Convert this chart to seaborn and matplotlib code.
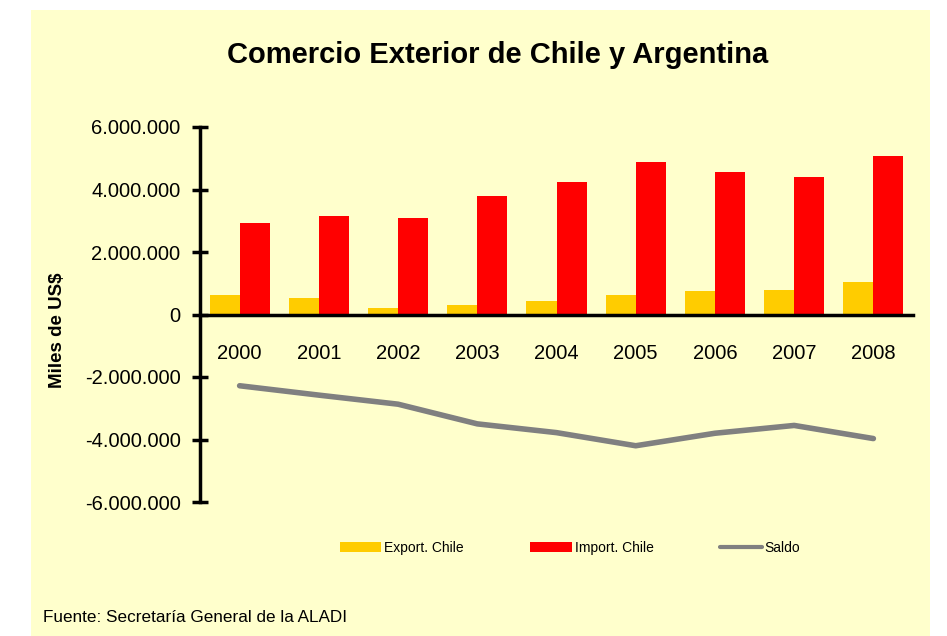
import numpy as np
import pandas as pd
import matplotlib
matplotlib.use("Agg")
import matplotlib.pyplot as plt
import seaborn as sns
from matplotlib.patches import Patch, Rectangle
from matplotlib.lines import Line2D
from matplotlib.ticker import FuncFormatter, FixedLocator

years = ["2000", "2001", "2002", "2003", "2004", "2005", "2006", "2007", "2008"]
export_chile = [640000, 530000, 210000, 320000, 430000, 640000, 750000, 800000, 1030000]
import_chile = [2930000, 3140000, 3090000, 3790000, 4230000, 4890000, 4560000, 4400000, 5060000]
saldo = [-2280000, -2580000, -2870000, -3500000, -3780000, -4200000, -3800000, -3550000, -3970000]

series_names = ["Export. Chile", "Import. Chile"]
colors = {"Export. Chile": "#FFCC00", "Import. Chile": "#FF0000"}
saldo_color = "#808080"
bg = "#FFFFCC"

df = pd.DataFrame({
    "year": years * 2,
    "serie": ["Export. Chile"] * len(years) + ["Import. Chile"] * len(years),
    "value": export_chile + import_chile,
})

sns.set_style("white")
plt.rcParams["font.family"] = ["Liberation Sans", "DejaVu Sans"]
plt.rcParams["text.color"] = "black"
plt.rcParams["xtick.color"] = "black"
plt.rcParams["ytick.color"] = "black"

fig = plt.figure(figsize=(9.47, 6.36), dpi=100, facecolor="white")
W, H = 947, 636
fig.patches.append(Rectangle((31 / W, 0), (930 - 31) / W, 1 - 10 / H,
                             transform=fig.transFigure, facecolor=bg,
                             edgecolor="none", zorder=-10))

ax = fig.add_axes([200 / W, 1 - 502 / H, (913 - 200) / W, (502 - 127) / H])
ax.set_zorder(5)
ax.patch.set_alpha(0)

sns.barplot(data=df, x="year", y="value", hue="serie", palette=colors,
            hue_order=series_names, width=0.76, saturation=1, ax=ax,
            legend=False, edgecolor="none")
sns.lineplot(x=np.arange(len(years)), y=saldo, color=saldo_color, lw=4,
             ax=ax, legend=False)

ax.set_xlim(-0.5, len(years) - 0.5)
ax.set_ylim(-6000000, 6000000)
ax.yaxis.set_major_locator(FixedLocator(np.arange(-6000000, 6000001, 2000000)))
ax.yaxis.set_major_formatter(FuncFormatter(lambda v, p: f"{v:,.0f}".replace(",", ".")))

for s in ["top", "right"]:
    ax.spines[s].set_visible(False)
for s in ["left", "bottom"]:
    ax.spines[s].set_linewidth(2.5)
    ax.spines[s].set_color("black")
ax.spines["bottom"].set_position(("data", 0))

ax.set_xticks(np.arange(len(years)))
ax.set_xticklabels(years)
ax.set_xticks(np.arange(-0.5, len(years)), minor=True)
ax.tick_params(axis="x", which="major", length=0, pad=21, labelsize=14.5)
ax.tick_params(axis="x", which="minor", direction="inout", length=11, width=2.5)
ax.tick_params(axis="y", direction="inout", length=12, width=2.5, labelsize=14.5, pad=8, left=True)
ax.set_xlabel("")
ax.set_ylabel("")

fig.text(58 / W, 1 - 330 / H, "Miles de US$", rotation=90, ha="center", va="center",
         fontsize=13.5, fontweight="bold")
fig.text(498 / W, 1 - 55 / H, "Comercio Exterior de Chile y Argentina",
         ha="center", va="center", fontsize=21, fontweight="bold")
fig.text(43 / W, 1 - 617 / H, "Fuente: Secretaría General de la ALADI",
         ha="left", va="center", fontsize=12.3)

handles = [Patch(facecolor=colors["Export. Chile"], edgecolor="none"),
           Patch(facecolor=colors["Import. Chile"], edgecolor="none"),
           Line2D([0], [0], color=saldo_color, lw=3)]
fig.legend(handles, ["Export. Chile", "Import. Chile", "Saldo"], loc="center",
           bbox_to_anchor=(570 / W, 1 - 548 / H), ncol=3, frameon=False,
           fontsize=10, handlelength=3.0, handleheight=0.8, handletextpad=0.2,
           columnspacing=4.8)

fig.savefig("out.png", dpi=100, facecolor="white")
